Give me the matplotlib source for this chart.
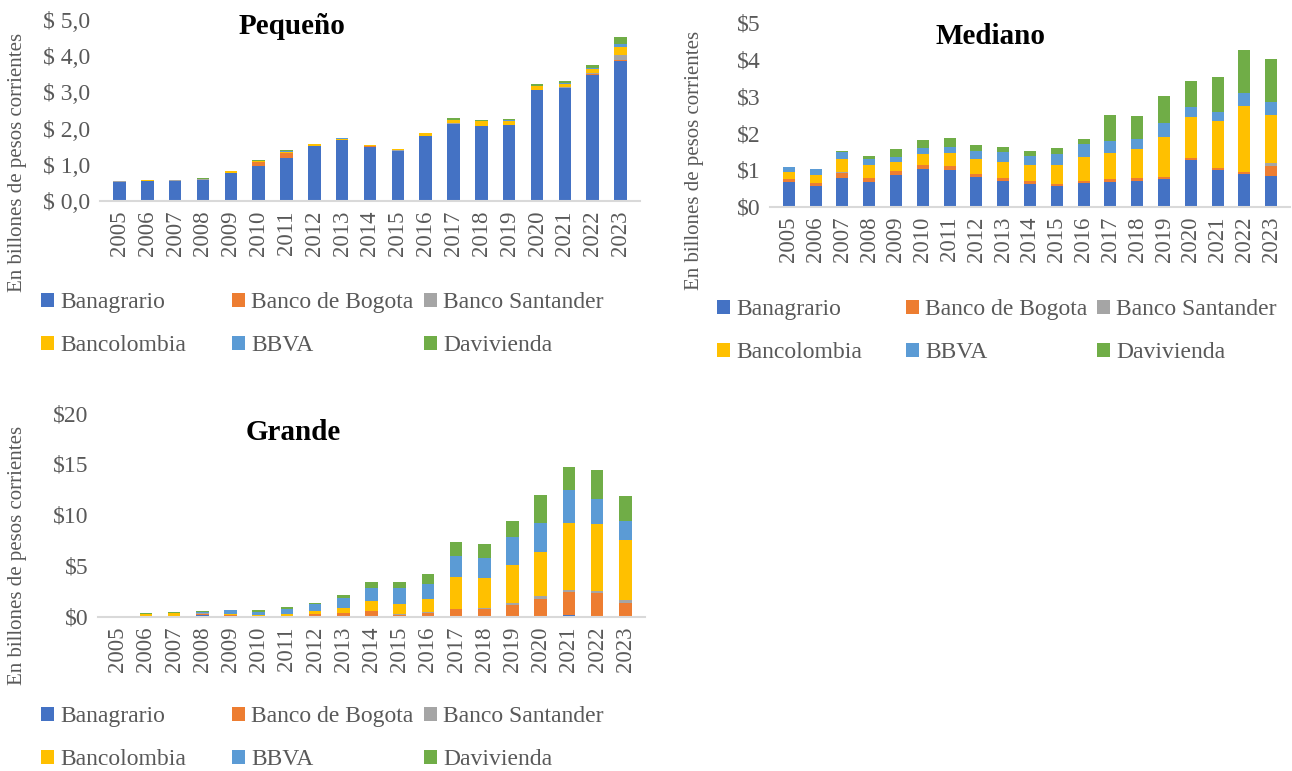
import numpy as np
import matplotlib
matplotlib.use("Agg")
import matplotlib.pyplot as plt
from matplotlib.patches import Patch

plt.rcParams['font.family'] = ['Liberation Serif', 'DejaVu Serif']

years = [str(y) for y in range(2005, 2024)]
banks = ["Banagrario", "Banco de Bogota", "Banco Santander",
         "Bancolombia", "BBVA", "Davivienda"]
colors = ["#4472C4", "#ED7D31", "#A5A5A5", "#FFC000", "#5B9BD5", "#70AD47"]

# Pequeño
peq_banagrario = [0.53, 0.54, 0.54, 0.58, 0.77, 0.98, 1.20, 1.52, 1.68, 1.48, 1.37, 1.79, 2.13, 2.07, 2.09, 3.06, 3.12, 3.49, 3.87]
peq_bogota = [0, 0, 0, 0, 0, 0.10, 0.12, 0, 0, 0.03, 0.02, 0, 0.01, 0, 0, 0.01, 0.01, 0.02, 0.02]
peq_santander = [0.01, 0.01, 0.03, 0.02, 0.01, 0.01, 0.01, 0.01, 0.01, 0.01, 0.01, 0.01, 0.01, 0.01, 0.01, 0.01, 0.01, 0.03, 0.15]
peq_bancolombia = [0, 0.03, 0, 0.01, 0.04, 0.02, 0.03, 0.04, 0.03, 0.03, 0.03, 0.07, 0.09, 0.12, 0.12, 0.09, 0.10, 0.12, 0.22]
peq_bbva = [0, 0.01, 0.01, 0.01, 0, 0, 0.01, 0.01, 0.01, 0.01, 0.01, 0.01, 0.01, 0.01, 0.01, 0.02, 0.03, 0.02, 0.09]
peq_davivienda = [0, 0, 0, 0.02, 0, 0.01, 0.04, 0, 0, 0, 0.01, 0.01, 0.03, 0.04, 0.04, 0.04, 0.04, 0.07, 0.17]

# Mediano
med_banagrario = [0.68, 0.56, 0.79, 0.68, 0.85, 1.03, 1.01, 0.82, 0.71, 0.63, 0.57, 0.65, 0.68, 0.71, 0.75, 1.28, 1.01, 0.90, 0.84]
med_bogota = [0.07, 0.09, 0.13, 0.11, 0.12, 0.10, 0.10, 0.08, 0.07, 0.07, 0.06, 0.06, 0.07, 0.06, 0.06, 0.05, 0.03, 0.05, 0.27]
med_santander = [0, 0, 0.02, 0, 0, 0, 0, 0, 0, 0, 0, 0, 0, 0, 0, 0, 0, 0, 0.09]
med_bancolombia = [0.18, 0.21, 0.35, 0.34, 0.24, 0.29, 0.35, 0.40, 0.44, 0.43, 0.49, 0.65, 0.72, 0.80, 1.09, 1.11, 1.29, 1.79, 1.29]
med_bbva = [0.14, 0.17, 0.19, 0.16, 0.15, 0.18, 0.17, 0.21, 0.27, 0.26, 0.32, 0.35, 0.31, 0.28, 0.38, 0.26, 0.25, 0.36, 0.35]
med_davivienda = [0, 0, 0.02, 0.10, 0.20, 0.20, 0.25, 0.17, 0.13, 0.12, 0.15, 0.14, 0.71, 0.62, 0.74, 0.71, 0.94, 1.17, 1.18]

# Grande
gra_banagrario = [0.02, 0, 0, 0.10, 0.08, 0, 0, 0, 0, 0, 0, 0, 0, 0, 0, 0.05, 0.16, 0.07, 0.05]
gra_bogota = [0, 0.02, 0.03, 0.12, 0.05, 0.02, 0.05, 0.20, 0.33, 0.52, 0.13, 0.39, 0.72, 0.69, 1.11, 1.65, 2.26, 2.22, 1.29]
gra_santander = [0.05, 0, 0, 0.08, 0.02, 0, 0.02, 0.02, 0.02, 0.03, 0.07, 0.06, 0.06, 0.16, 0.20, 0.33, 0.23, 0.26, 0.26]
gra_bancolombia = [0, 0.24, 0.35, 0.05, 0.11, 0.08, 0.19, 0.30, 0.47, 1.02, 1.07, 1.31, 3.14, 2.97, 3.72, 4.28, 6.53, 6.53, 5.92]
gra_bbva = [0, 0, 0, 0.05, 0.39, 0.36, 0.49, 0.66, 0.98, 1.24, 1.51, 1.44, 2.06, 1.93, 2.78, 2.84, 3.24, 2.49, 1.89]
gra_davivienda = [0.02, 0.04, 0.07, 0.10, 0.02, 0.13, 0.17, 0.19, 0.32, 0.56, 0.65, 1.02, 1.37, 1.34, 1.60, 2.84, 2.29, 2.84, 2.45]

peq = [peq_banagrario, peq_bogota, peq_santander, peq_bancolombia, peq_bbva, peq_davivienda]
med = [med_banagrario, med_bogota, med_santander, med_bancolombia, med_bbva, med_davivienda]
gra = [gra_banagrario, gra_bogota, gra_santander, gra_bancolombia, gra_bbva, gra_davivienda]

W, H = 1292, 771
fig = plt.figure(figsize=(W / 100, H / 100), dpi=100)
grey = "#595959"


def panel(rect, series, ymax, step, fmt, title, title_xy, ylab_xy, leg_x, leg_y):
    ax = fig.add_axes(rect)
    x = np.arange(len(years))
    bottom = np.zeros(len(years))
    for vals, c in zip(series, colors):
        ax.bar(x, vals, 0.45, bottom=bottom, color=c, linewidth=0)
        bottom += np.array(vals)
    ax.set_xlim(-0.7, len(years) - 0.3)
    ax.set_ylim(0, ymax)
    ticks = np.arange(0, ymax + step / 2, step)
    ax.set_yticks(ticks)
    ax.set_yticklabels([fmt(t) for t in ticks], color=grey, fontsize=17)
    ax.set_xticks(x)
    ax.set_xticklabels(years, rotation=90, color=grey, fontsize=16.5)
    ax.tick_params(length=0, pad=7)
    for s in ["top", "right", "left"]:
        ax.spines[s].set_visible(False)
    ax.spines["bottom"].set_color("#D9D9D9")
    ax.spines["bottom"].set_linewidth(1.5)

    fig.text(title_xy[0] / W, 1 - title_xy[1] / H, title, fontsize=21,
             fontweight="bold", ha="center", va="center")
    fig.text(ylab_xy[0] / W, 1 - ylab_xy[1] / H, "En billones de pesos corrientes",
             rotation=90, fontsize=15, color=grey, ha="center", va="center")

    # legend: 3 columns x 2 rows
    cols = [[0, 3], [1, 4], [2, 5]]
    for lx, idx in zip(leg_x, cols):
        handles = [Patch(facecolor=colors[i], label=banks[i]) for i in idx]
        fig.legend(handles=handles, loc="upper left",
                   bbox_to_anchor=(lx / W, 1 - leg_y / H), frameon=False,
                   fontsize=17, handlelength=0.55, handleheight=0.55,
                   handletextpad=0.25, labelspacing=0.95, borderaxespad=0,
                   borderpad=0, labelcolor=grey)
    return ax


panel([100 / W, 1 - 201 / H, 540 / W, 181 / H], peq, 5, 1,
      lambda t: "$ " + f"{t:.1f}".replace(".", ","),
      "Pequeño", (292, 26), (18, 162), [41, 232, 424], 292)

panel([770 / W, 1 - 206.7 / H, 520 / W, 184 / H], med, 5, 1,
      lambda t: f"${t:.0f}",
      "Mediano", (990, 37), (695, 160), [717, 906, 1097], 299)

panel([98 / W, 1 - 616.5 / H, 547 / W, 203.5 / H], gra, 20, 5,
      lambda t: f"${t:.0f}",
      "Grande", (293, 433), (18, 555), [41, 232, 424], 706)

fig.savefig("out.png", dpi=100)
